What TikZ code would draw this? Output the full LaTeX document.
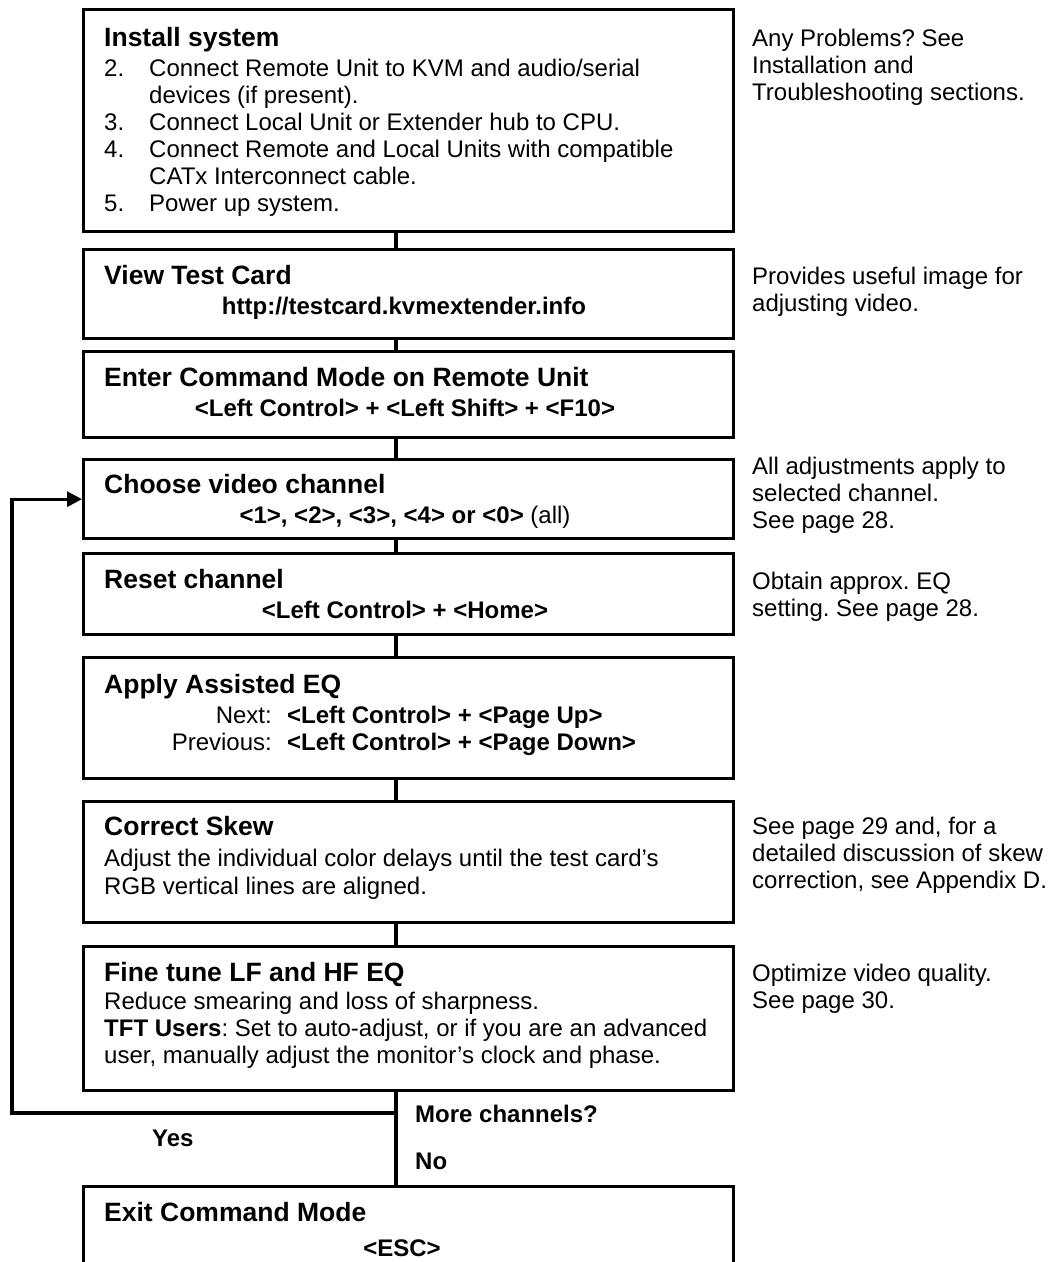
\documentclass[tikz,border=0pt]{standalone}
\usepackage{fontspec}
\setmainfont{Liberation Sans}
\usetikzlibrary{arrows.meta}
\frenchspacing
\newcommand\ftitle{\fontsize{26.5}{30}\selectfont\bfseries}
\newcommand\fbody{\fontsize{24}{27}\selectfont}
\newcommand\fkey{\fontsize{24}{27}\selectfont\bfseries}
\begin{document}
\begin{tikzpicture}[x=1pt,y=-1pt,
  box/.style={draw, line width=3.3pt, anchor=north west, inner sep=0pt, minimum width=650pt},
  conn/.style={line width=3.1pt},
  ttl/.style={anchor=base west, inner sep=0pt, font=\ftitle},
  txt/.style={anchor=base west, inner sep=0pt, font=\fbody},
  key/.style={anchor=base, inner sep=0pt, font=\fkey},
  lbl/.style={anchor=base west, inner sep=0pt, font=\fkey}]
\useasboundingbox (0,0) rectangle (1051,1262);
\clip (0,0) rectangle (1051,1262);
% boxes
\node[box, minimum height=222pt] (b1) at (82,8) {};
\node[box, minimum height=89pt] (b2) at (82,248) {};
\node[box, minimum height=86pt] (b3) at (82,350) {};
\node[box, minimum height=79pt] (b4) at (82,458) {};
\node[box, minimum height=81pt] (b5) at (82,552) {};
\node[box, minimum height=121pt] (b6) at (82,656) {};
\node[box, minimum height=121pt] (b7) at (82,800) {};
\node[box, minimum height=144pt] (b8) at (82,945) {};
\node[box, minimum height=120pt] (b9) at (82,1185) {};
\coordinate (spine) at (396,0);
% connectors
\draw[conn] (b1.south -| spine) -- (b2.north -| spine);
\draw[conn] (b2.south -| spine) -- (b3.north -| spine);
\draw[conn] (b3.south -| spine) -- (b4.north -| spine);
\draw[conn] (b4.south -| spine) -- (b5.north -| spine);
\draw[conn] (b5.south -| spine) -- (b6.north -| spine);
\draw[conn] (b6.south -| spine) -- (b7.north -| spine);
\draw[conn] (b7.south -| spine) -- (b8.north -| spine);
\draw[conn] (b8.south -| spine) -- (b9.north -| spine);
\coordinate (loopstart) at (396,1113);
\coordinate (loopcorner) at (12,1113);
\draw[conn, -{Triangle[length=15pt,width=15pt]}] (loopstart) -- (loopcorner) |- (b4.west);
% box 1
\node[ttl] (t1) at (104,46) {Install system};
\node[txt] (n1a) at (104,76) {2.};
\node[txt] (l1a) at (149,76) {Connect Remote Unit to KVM and audio/serial};
\node[txt] (l1b) at (149,103) {devices (if present).};
\node[txt] (n1c) at (104,130) {3.};
\node[txt] (l1c) at (149,130) {Connect Local Unit or Extender hub to CPU.};
\node[txt] (n1d) at (104,157) {4.};
\node[txt] (l1d) at (149,157) {Connect Remote and Local Units with compatible};
\node[txt] (l1e) at (149,184) {CATx Interconnect cable.};
\node[txt] (n1f) at (104,211) {5.};
\node[txt] (l1f) at (149,211) {Power up system.};
% box 2
\node[ttl] (t2) at (104,284) {View Test Card};
\node[key] (k2) at (404,314) {http://testcard.kvmextender.info};
% box 3
\node[ttl] (t3) at (104,386) {Enter Command Mode on Remote Unit};
\node[key] (k3) at (405,416) {<Left Control> + <Left Shift> + <F10>};
% box 4
\node[ttl] (t4) at (104,493) {Choose video channel};
\node[key] (k4) at (405,523) {<1>, <2>, <3>, <4> or <0>\mdseries{} (all)};
% box 5
\node[ttl] (t5) at (104,588) {Reset channel};
\node[key] (k5) at (405,618) {<Left Control> + <Home>};
% box 6
\node[ttl] (t6) at (104,693) {Apply Assisted EQ};
\node[anchor=base east, inner sep=0pt, font=\fbody] (p6a) at (272,723) {Next:};
\node[lbl] (k6a) at (287,723) {<Left Control> + <Page Up>};
\node[anchor=base east, inner sep=0pt, font=\fbody] (p6b) at (272,750) {Previous:};
\node[lbl] (k6b) at (287,750) {<Left Control> + <Page Down>};
% box 7
\node[ttl] (t7) at (104,835) {Correct Skew};
\node[txt] (l7a) at (104,866) {Adjust the individual color delays until the test card’s};
\node[txt] (l7b) at (104,894) {RGB vertical lines are aligned.};
% box 8
\node[ttl] (t8) at (104,981) {Fine tune LF and HF EQ};
\node[txt] (l8a) at (104,1009) {Reduce smearing and loss of sharpness.};
\node[txt] (l8b) at (104,1036) {\textbf{TFT Users}: Set to auto-adjust, or if you are an advanced};
\node[txt] (l8c) at (104,1063) {user, manually adjust the monitor’s clock and phase.};
% decision labels
\node[lbl] (more) at (415,1122) {More channels?};
\node[lbl] (yes) at (152,1146) {Yes};
\node[lbl] (no) at (415,1169) {No};
% box 9
\node[ttl] (t9) at (104,1221) {Exit Command Mode};
\node[key] (k9) at (402,1256) {<ESC>};
% notes
\node[txt] (a1) at (752,46) {Any Problems? See};
\node[txt] (a2) at (752,73) {Installation and};
\node[txt] (a3) at (752,100) {Troubleshooting sections.};
\node[txt] (c1) at (752,284) {Provides useful image for};
\node[txt] (c2) at (752,311) {adjusting video.};
\node[txt] (d1) at (752,474) {All adjustments apply to};
\node[txt] (d2) at (752,501) {selected channel.};
\node[txt] (d3) at (752,528) {See page 28.};
\node[txt] (e1) at (752,589) {Obtain approx. EQ};
\node[txt] (e2) at (752,616) {setting. See page 28.};
\node[txt] (f1) at (752,834) {See page 29 and, for a};
\node[txt] (f2) at (752,861) {detailed discussion of skew};
\node[txt] (f3) at (752,888) {correction, see Appendix D.};
\node[txt] (g1) at (752,981) {Optimize video quality.};
\node[txt] (g2) at (752,1008) {See page 30.};
\end{tikzpicture}
\end{document}
